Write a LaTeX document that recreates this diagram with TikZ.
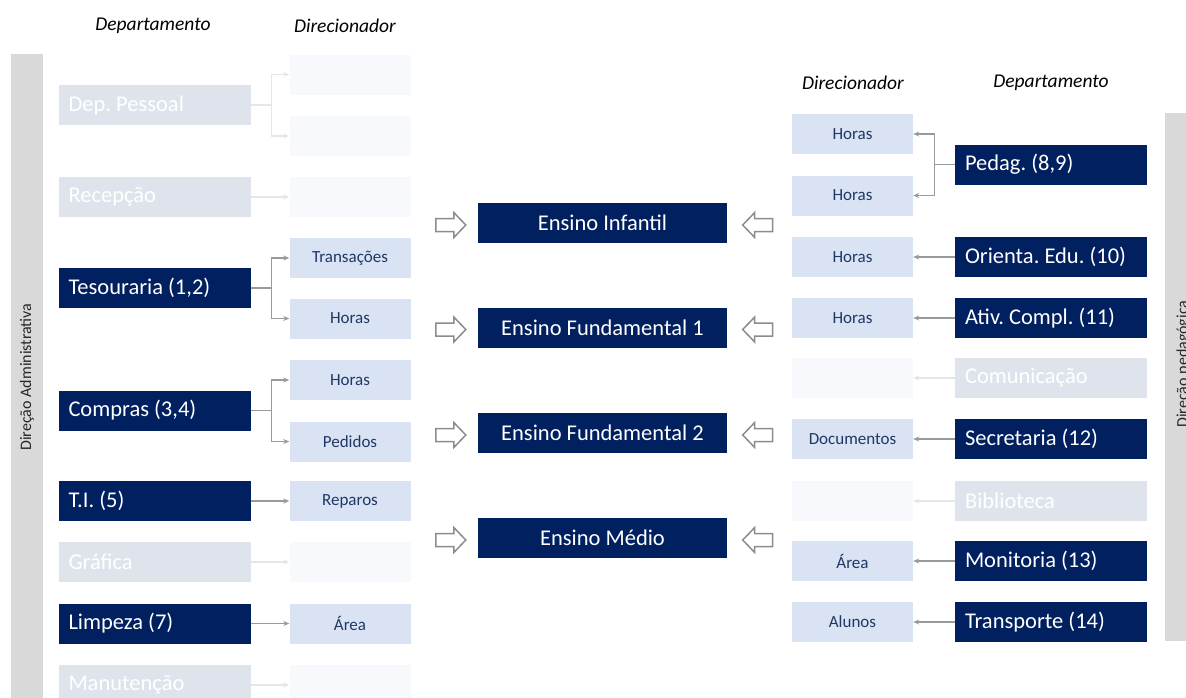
\documentclass[tikz,border=0pt]{standalone}
\usepackage{fontspec}
\setmainfont{Carlito}
\usetikzlibrary{arrows.meta}
\definecolor{navy}{HTML}{002060}
\definecolor{lightblue}{HTML}{DAE3F3}
\definecolor{fadedept}{HTML}{DFE4EC}
\definecolor{fadedir}{HTML}{F7F9FC}
\definecolor{bargray}{HTML}{D9D9D9}
\definecolor{dirtext}{HTML}{1F3864}
\definecolor{conngray}{HTML}{9A9A9A}
\definecolor{connfade}{HTML}{E6E6E6}
\definecolor{arrowgray}{HTML}{8C8C8C}
\definecolor{labeltext}{HTML}{262626}
\newcommand{\lft}[1]{\makebox[172pt][l]{#1}}
\tikzset{
  dept/.style={rectangle, inner xsep=10pt, inner ysep=0pt, minimum width=192pt, minimum height=40pt, font=\fontsize{22.5}{26}\selectfont\frenchspacing},
  deptA/.style={dept, fill=navy, text=white},
  deptF/.style={dept, fill=fadedept, text=white},
  dirbox/.style={rectangle, inner sep=0pt, minimum width=121pt, minimum height=40pt, align=center, font=\fontsize{17}{20}\selectfont},
  dirA/.style={dirbox, fill=lightblue, text=dirtext},
  dirF/.style={dirbox, fill=fadedir},
  ensbox/.style={rectangle, inner sep=0pt, minimum width=249pt, minimum height=40pt, fill=navy, text=white, font=\fontsize{22.5}{26}\selectfont},
  hdr/.style={font=\fontsize{19.5}{22}\selectfont\itshape, text=black},
  barlabel/.style={rotate=90, font=\fontsize{16}{19}\selectfont, text=labeltext},
  conn/.style={draw=conngray, line width=1.1pt, -{Stealth[length=6pt,width=5pt]}},
  connF/.style={conn, draw=connfade},
  barrow/.style={draw=arrowgray, fill=white, line width=1.5pt, line join=miter},
  pics/blockR/.style={code={\draw[barrow] (-15,-6.5) -- (3,-6.5) -- (3,-12.5) -- (15,0) -- (3,12.5) -- (3,6.5) -- (-15,6.5) -- cycle;}},
  pics/blockL/.style={code={\draw[barrow] (15,-6.5) -- (-3,-6.5) -- (-3,-12.5) -- (-15,0) -- (-3,12.5) -- (-3,6.5) -- (15,6.5) -- cycle;}},
}
\begin{document}
\begin{tikzpicture}[x=1pt,y=-1pt]
\useasboundingbox (0,0) rectangle (1186,697);
\clip (0,0) rectangle (1186,697);
\fill[white] (0,0) rectangle (1186,697);

% side bars
\fill[bargray] (11,54) rectangle (43,700);
\fill[bargray] (1165,113) rectangle (1190,641);
\node[barlabel] (admlabel) at (27,377) {Direção Administrativa};
\node[barlabel] (pedlabel) at (1183.5,364) {Direção pedagógica};

% headers
\node[hdr] (h1) at (153,26) {Departamento};
\node[hdr] (h2) at (345,26) {Direcionador};
\node[hdr] (h3) at (853,83) {Direcionador};
\node[hdr] (h4) at (1051,83) {Departamento};

% left departments
\node[deptF] (dp)  at (154.5,105)   {\lft{Dep. Pessoal}};
\node[deptF] (rec) at (154.5,197)   {\lft{Recepção}};
\node[deptA] (tes) at (154.5,288)   {\lft{Tesouraria (1,2)}};
\node[deptA] (cmp) at (154.5,410.5) {\lft{Compras (3,4)}};
\node[deptA] (ti)  at (154.5,501)   {\lft{T.I. (5)}};
\node[deptF] (gra) at (154.5,562)   {\lft{Gráfica}};
\node[deptA] (lim) at (154.5,623.5) {\lft{Limpeza (7)}};
\node[deptF] (man) at (154.5,685)   {\lft{Manutenção}};

% left drivers
\node[dirF] (l0)  at (350,74.5)  {};
\node[dirF] (l1)  at (350,136)   {};
\node[dirF] (l2)  at (350,197)   {};
\node[dirA] (l3)  at (350,258)   {Transações};
\node[dirA] (l4)  at (350,318.5) {Horas};
\node[dirA] (l5)  at (350,380)   {Horas};
\node[dirA] (l6)  at (350,441.5) {Pedidos};
\node[dirA] (l7)  at (350,501)   {Reparos};
\node[dirF] (l8)  at (350,562)   {};
\node[dirA] (l9)  at (350,623.5) {Área};
\node[dirF] (l10) at (350,685)   {};

% left connectors
\draw[connF] (dp.east) -- ++(21,0) |- (l0.west);
\draw[connF] (dp.east) -- ++(21,0) |- (l1.west);
\draw[connF] (rec.east) -- (l2.west);
\draw[conn] (tes.east) -- ++(21,0) |- (l3.west);
\draw[conn] (tes.east) -- ++(21,0) |- (l4.west);
\draw[conn] (cmp.east) -- ++(21,0) |- (l5.west);
\draw[conn] (cmp.east) -- ++(21,0) |- (l6.west);
\draw[conn] (ti.east) -- (l7.west);
\draw[connF] (gra.east) -- (l8.west);
\draw[conn] (lim.east) -- (l9.west);
\draw[connF] (man.east) -- (l10.west);

% center
\node[ensbox] (ei)  at (602.5,223)   {Ensino Infantil};
\node[ensbox] (ef1) at (602.5,327.5) {Ensino Fundamental 1};
\node[ensbox] (ef2) at (602.5,433)   {Ensino Fundamental 2};
\node[ensbox] (em)  at (602.5,538)   {Ensino Médio};
\foreach \n in {ei,ef1,ef2,em}{
  \pic at ([xshift=-27pt,yshift=-2pt]\n.west) {blockR};
  \pic at ([xshift=30.5pt,yshift=-2pt]\n.east) {blockL};
}

% right drivers
\node[dirA] (r0) at (852.5,134)   {Horas};
\node[dirA] (r1) at (852.5,195.5) {Horas};
\node[dirA] (r2) at (852.5,257)   {Horas};
\node[dirA] (r3) at (852.5,318)   {Horas};
\node[dirF] (r4) at (852.5,378)   {};
\node[dirA] (r5) at (852.5,439)   {Documentos};
\node[dirF] (r6) at (852.5,501)   {};
\node[dirA] (r7) at (852.5,561)   {Área};
\node[dirA] (r8) at (852.5,622)   {Alunos};

% right departments
\node[deptA] (ped) at (1051,164.5) {\lft{Pedag. (8,9)}};
\node[deptA] (ori) at (1051,257)   {\lft{Orienta. Edu. (10)}};
\node[deptA] (ati) at (1051,318)   {\lft{Ativ. Compl. (11)}};
\node[deptF] (cmn) at (1051,378)   {\lft{Comunicação}};
\node[deptA] (sec) at (1051,439)   {\lft{Secretaria (12)}};
\node[deptF] (bib) at (1051,501)   {\lft{Biblioteca}};
\node[deptA] (mon) at (1051,561)   {\lft{Monitoria (13)}};
\node[deptA] (tra) at (1051,622)   {\lft{Transporte (14)}};

% right connectors
\draw[conn] (ped.west) -- ++(-20,0) |- (r0.east);
\draw[conn] (ped.west) -- ++(-20,0) |- (r1.east);
\draw[conn] (ori.west) -- (r2.east);
\draw[conn] (ati.west) -- (r3.east);
\draw[connF] (cmn.west) -- (r4.east);
\draw[conn] (sec.west) -- (r5.east);
\draw[connF] (bib.west) -- (r6.east);
\draw[conn] (mon.west) -- (r7.east);
\draw[conn] (tra.west) -- (r8.east);
\end{tikzpicture}
\end{document}
